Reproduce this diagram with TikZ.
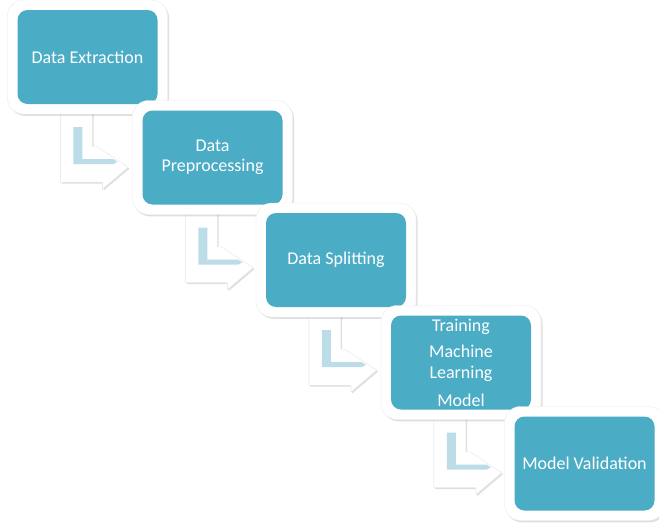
\documentclass[tikz,border=0pt]{standalone}
\usepackage{fontspec}
\setmainfont{Carlito}
\usetikzlibrary{shadows,backgrounds,positioning}
\definecolor{stageblue}{RGB}{75,172,198}
\definecolor{stagelight}{RGB}{188,220,232}

\begin{document}
\begin{tikzpicture}[
    x=1pt, y=-1pt,
    frame/.style={rectangle, rounded corners=16pt, fill=white, draw=black!8,
        minimum width=160pt, minimum height=114pt, inner sep=0pt,
        drop shadow={shadow xshift=1.5pt, shadow yshift=-1.8pt, opacity=0.25}},
    stage/.style={rectangle, rounded corners=10pt, fill=stageblue,
        minimum width=140pt, minimum height=94pt, inner sep=2pt,
        text=white, align=center, font=\fontsize{18}{20}\selectfont},
    bentarrow/.pic={
        % white bent arrow with a light blue L on top
        \filldraw[white, draw=black!10,
            drop shadow={shadow xshift=1.2pt, shadow yshift=-1.5pt, opacity=0.25}]
            (43,0) -- (75,0) -- (75,42) -- (79,42) -- (111,63) -- (85,85)
            -- (85,78) -- (43,78) -- cycle;
        \fill[stagelight] (56,23) -- (65,23) -- (65,55) -- (96,55) -- (100,57.5)
            -- (96,60) -- (56,60) -- cycle;
    }
]
\useasboundingbox (0,0) rectangle (659,525);

% stages, top left to bottom right
\foreach \i/\x/\y/\txt in {
    1/87.5/57/{Data Extraction},
    2/212.5/157.5/{Data\\Preprocessing},
    3/336/260/{Data Splitting},
    4/461/362.5/{Training\\[6pt]Machine\\[1pt]Learning\\[8pt]Model},
    5/584.5/463.5/{Model Validation}} {
    \node[frame] (frame\i) at (\x,\y) {};
    \node[stage] (box\i) at (\x,\y) {\txt};
}

% bent arrows between the stages
\begin{scope}[on background layer]
\foreach \i in {1,...,4} {
    \pic at (box\i.south west) {bentarrow};
}
\end{scope}
\end{tikzpicture}
\end{document}
